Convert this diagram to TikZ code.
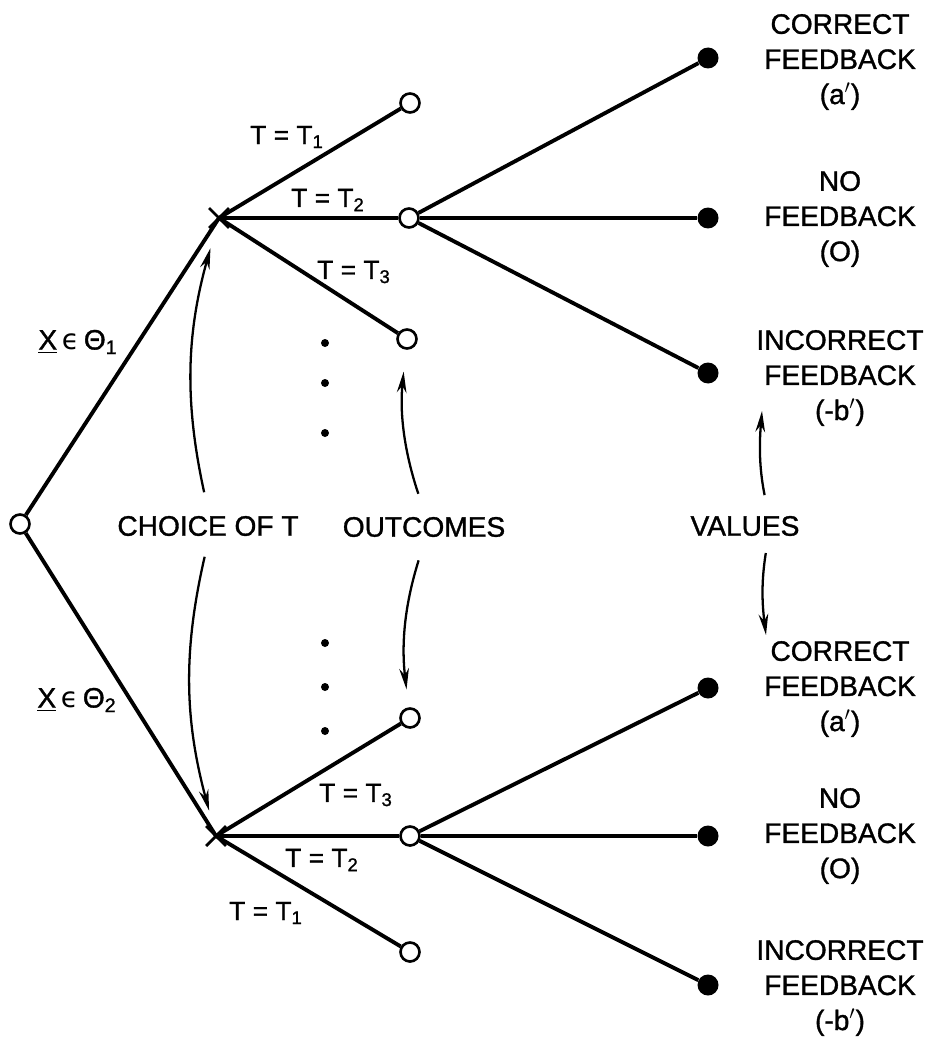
\documentclass[tikz,border=0pt]{standalone}
\usepackage{fontspec}
\setmainfont{Liberation Sans}[BoldFont=Liberation Sans, BoldFeatures={FakeBold=1.2}]
\newfontfamily\symfont{DejaVu Sans}
\usetikzlibrary{arrows.meta, shapes.misc}

\begin{document}
\begin{tikzpicture}[
  x=0.02cm, y=-0.02cm,
  every node/.style={font=\bfseries},
  outc/.style={circle, draw=black, fill=white, line width=1.5pt,
               inner sep=0pt, minimum size=0.38cm},
  valdot/.style={circle, fill=black, inner sep=0pt, minimum size=0.42cm},
  choice/.style={cross out, draw=black, line width=1.6pt,
                 inner sep=0pt, minimum size=0.34cm},
  gapdot/.style={circle, fill=black, inner sep=0pt, minimum size=0.16cm},
  branch/.style={line width=2.2pt},
  arr/.style={-{Stealth[length=12pt, width=5.5pt]}, line width=1.3pt},
  lab/.style={font=\bfseries\fontsize{16}{19}\selectfont},
  tlab/.style={font=\bfseries\fontsize{15}{18}\selectfont},
  val/.style={font=\bfseries\fontsize{16}{20}\selectfont, align=center}
]
\useasboundingbox (0,0) rectangle (929,1037);

% decision nodes
\node[outc]   (root) at (20,524) {};
\node[choice] (up)   at (219,218) {};
\node[choice] (lo)   at (216,836) {};

% outcomes
\node[outc] (u1) at (410,103) {};
\node[outc] (u2) at (409,218) {};
\node[outc] (u3) at (407,339) {};
\node[outc] (l3) at (410,718) {};
\node[outc] (l2) at (410,836) {};
\node[outc] (l1) at (410,952) {};

% values
\node[valdot] (uc) at (708,58)  {};
\node[valdot] (un) at (708,218) {};
\node[valdot] (ui) at (708,373) {};
\node[valdot] (lc) at (708,688) {};
\node[valdot] (ln) at (708,836) {};
\node[valdot] (li) at (708,985) {};

% omitted choices
\foreach \yy [count=\i] in {343,383,433}
  \node[gapdot] (gu\i) at (325,\yy) {};
\foreach \yy [count=\i] in {643,687,731}
  \node[gapdot] (gl\i) at (325,\yy) {};

\draw[branch] (root) -- (up.center);
\draw[branch] (root) -- (lo.center);
\draw[branch] (up.center) -- (u1);
\draw[branch] (up.center) -- (u2);
\draw[branch] (up.center) -- (u3);
\draw[branch] (lo.center) -- (l1);
\draw[branch] (lo.center) -- (l2);
\draw[branch] (lo.center) -- (l3);
\draw[branch] (u2) -- (uc);
\draw[branch] (u2) -- (un);
\draw[branch] (u2) -- (ui);
\draw[branch] (l2) -- (lc);
\draw[branch] (l2) -- (ln);
\draw[branch] (l2) -- (li);

% branch labels
\node[tlab] (tu1) at (287,137) {T = T\textsubscript{1}};
\node[tlab] (tu2) at (328,200) {T = T\textsubscript{2}};
\node[tlab] (tu3) at (354,272) {T = T\textsubscript{3}};
\node[tlab] (tl3) at (356,795) {T = T\textsubscript{3}};
\node[tlab] (tl2) at (322,860) {T = T\textsubscript{2}};
\node[tlab] (tl1) at (266,913) {T = T\textsubscript{1}};
\node[lab] (th1) at (78,342) {\underline{X}\,{\symfont\mdseries ϵ}\,Θ\textsubscript{1}};
\node[lab] (th2) at (77,700) {\underline{X}\,{\symfont\mdseries ϵ}\,Θ\textsubscript{2}};

% value labels
\node[val] (vuc) at (840,62)  {CORRECT\\FEEDBACK\\(a$'$)};
\node[val] (vun) at (840,219) {NO\\FEEDBACK\\(O)};
\node[val] (vui) at (840,378) {INCORRECT\\FEEDBACK\\(-b$'$)};
\node[val] (vlc) at (840,689) {CORRECT\\FEEDBACK\\(a$'$)};
\node[val] (vln) at (840,836) {NO\\FEEDBACK\\(O)};
\node[val] (vli) at (840,988) {INCORRECT\\FEEDBACK\\(-b$'$)};

% middle row
\node[lab] (chc)  at (208,526) {CHOICE OF T};
\node[lab] (outs) at (424,527) {OUTCOMES};
\node[lab] (vals) at (745,526) {VALUES};
\coordinate (vU) at (762,411);
\coordinate (vD) at (766,635);

\draw[arr, shorten <=0.36cm, shorten >=0.42cm] (chc.north) to[bend left=14] (up);
\draw[arr, shorten <=0.3cm, shorten >=0.32cm] (chc.south) to[bend right=14] (lo);
\draw[arr, shorten <=0.36cm, shorten >=0.44cm] (outs.north) to[bend left=12] (u3);
\draw[arr, shorten <=0.36cm, shorten >=0.36cm] (outs.south) to[bend right=12] (l3);
\draw[arr, shorten <=0.3cm] ([xshift=0.45cm]vals.north) to[bend left=8] (vU);
\draw[arr, shorten <=0.22cm] ([xshift=0.45cm]vals.south) to[bend right=8] (vD);
\end{tikzpicture}
\end{document}
